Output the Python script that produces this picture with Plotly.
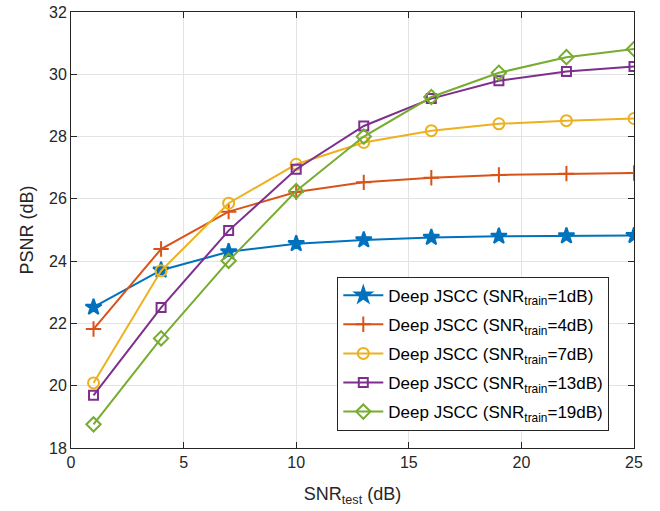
import plotly.graph_objects as go

snr_test = [1, 4, 7, 10, 13, 16, 19, 22, 25]
psnr_train1 = [22.52, 23.71, 24.30, 24.56, 24.68, 24.76, 24.80, 24.81, 24.82]
psnr_train4 = [21.82, 24.39, 25.59, 26.22, 26.53, 26.68, 26.77, 26.81, 26.83]
psnr_train7 = [20.09, 23.69, 25.86, 27.11, 27.81, 28.19, 28.41, 28.51, 28.58]
psnr_train13 = [19.69, 22.51, 24.98, 26.95, 28.34, 29.22, 29.79, 30.09, 30.25]
psnr_train19 = [18.76, 21.52, 24.01, 26.25, 28.00, 29.27, 30.05, 30.55, 30.81]

names = ["1dB", "4dB", "7dB", "13dB", "19dB"]
series = [psnr_train1, psnr_train4, psnr_train7, psnr_train13, psnr_train19]
colors = ["#0072BD", "#D95319", "#EDB120", "#7E2F8E", "#77AC30"]
symbols = ["star", "cross-thin-open", "circle-open", "square-open", "diamond-open"]
sizes = [12, 11, 11, 9, 11]

fig = go.Figure()
for i, (n, s, c, sym, sz) in enumerate(zip(names, series, colors, symbols, sizes)):
    fig.add_trace(go.Scatter(
        x=snr_test, y=s, mode="lines+markers",
        name=f"Deep JSCC (SNR<sub>train</sub>={n})",
        legendgroup=f"g{i}",
        line=dict(color=c, width=2),
        marker=dict(symbol=sym, size=sz, color=c, line=dict(color=c, width=2)),
    ))

axis_common = dict(
    showline=True, linecolor="#262626", linewidth=1, mirror="ticks",
    ticks="inside", ticklen=6, tickcolor="#262626",
    showgrid=True, gridcolor="#E3E3E3", gridwidth=1, zeroline=False,
    automargin=False,
    tickfont=dict(family="Liberation Sans, Arial, sans-serif", size=16, color="#262626"),
)

fig.update_layout(
    width=660, height=511,
    margin=dict(l=71, r=26, t=12, b=63),
    plot_bgcolor="white", paper_bgcolor="white",
    font=dict(family="Liberation Sans, Arial, sans-serif", color="#262626"),
    xaxis=dict(range=[0, 25], tickvals=[0, 5, 10, 15, 20, 25],
               title=dict(text="SNR<sub>test</sub> (dB)", font=dict(size=18), standoff=17),
               **axis_common),
    yaxis=dict(range=[18, 32], tickvals=[18, 20, 22, 24, 26, 28, 30, 32],
               title=dict(text="PSNR (dB)", font=dict(size=18), standoff=10),
               **axis_common),
    legend=dict(x=0.473, y=0.393, xanchor="left", yanchor="top",
                bgcolor="white", bordercolor="#262626", borderwidth=1,
                font=dict(size=17, color="#000000"), itemwidth=40,
                tracegroupgap=4),
    showlegend=True,
)

fig.write_html("out.html", config={"displayModeBar": False},
               post_script="document.body.style.margin='0';")
